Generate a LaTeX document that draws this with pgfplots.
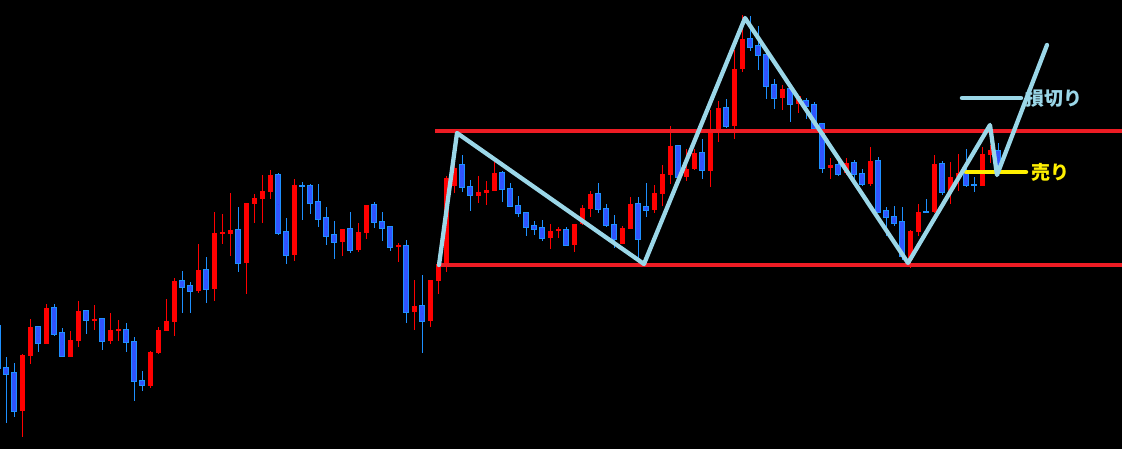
\documentclass[border=0pt]{standalone}
\usepackage{fontspec}
\usepackage{pgfplots}
\usepackage{pgfplotstable}
\pgfplotsset{compat=1.18}
\newfontfamily\cjk{Noto Sans CJK JP}
\definecolor{cred}{RGB}{255,0,0}
\definecolor{cblue}{RGB}{30,144,255}
\definecolor{cbluefill}{RGB}{48,84,255}
\definecolor{lred}{RGB}{237,28,36}
\definecolor{lblue}{RGB}{155,215,232}
\definecolor{lyel}{RGB}{255,240,0}
\pgfplotsset{candle/.style={only marks, mark=*, mark size=0pt,
  mark options={draw=none, fill=none}, forget plot}}

% candle tables in pixel coordinates (y measured from top)
\pgfplotstableread{
x top bot hi lo
22.3 355 411 354 437
30.3 327 356 319 364
46.3 308 344 304 344
70.3 340 357 331 357
78.3 311 341 301 347
94.3 320 320 305 330
110.3 330 341 313 344
118.3 330 330 320 341
150.3 352 386 351 388
158.3 330 353 327 354
166.3 321 331 299 331
174.3 281 322 278 336
198.3 270 291 244 293
214.3 233 289 212 301
222.3 233 233 214 244
230.3 230 234 193 256
246.3 203 263 203 294
254.3 198 204 194 223
262.3 191 199 175 223
270.3 175 192 170 199
294.3 185 255 179 261
342.3 229 242 229 256
358.3 232 250 223 252
366.3 205 233 205 239
398.3 246 246 243 262
414.3 306 312 280 330
430.3 280 321 280 327
438.3 264 281 264 294
446.3 178 264 176 272
454.3 168 186 158 193
478.3 192 196 176 203
486.3 190 193 181 205
494.3 173 191 162 191
550.3 231 238 224 249
558.3 229 231 227 238
574.3 224 245 224 252
582.3 208 224 205 225
590.3 194 209 191 217
622.3 228 244 226 244
630.3 204 229 197 229
654.3 193 210 185 213
662.3 174 194 165 206
670.3 146 175 126 184
686.3 169 177 149 181
694.3 153 169 149 170
710.3 133 171 110 187
718.3 108 133 101 142
734.3 69 126 50 139
742.3 39 69 15 72
782.3 89 98 85 110
798.3 96 104 96 113
830.3 165 168 158 179
846.3 163 173 158 175
870.3 161 184 147 186
910.3 231 260 230 268
918.3 212 232 204 236
934.3 164 212 155 213
950.3 177 192 162 204
958.3 173 177 154 191
982.3 154 186 147 186
990.3 150 155 145 163
}\redtab

\pgfplotstableread{
x top bot hi lo
-1.7 326 368 324 372
6.3 368 374 357 423
14.3 373 411 363 417
38.3 327 343 327 352
54.3 308 334 304 336
62.3 333 356 328 356
86.3 311 320 311 334
102.3 319 341 319 350
126.3 330 342 323 352
134.3 342 381 337 401
142.3 381 385 371 391
182.3 281 287 271 313
190.3 286 291 282 313
206.3 270 289 257 303
238.3 230 263 207 272
278.3 175 233 173 235
286.3 232 255 218 264
302.3 186 186 182 220
310.3 186 203 184 214
318.3 202 219 184 227
326.3 218 236 207 245
334.3 235 242 221 259
350.3 229 250 212 253
374.3 205 222 202 228
382.3 222 228 212 241
390.3 227 247 226 251
406.3 246 312 240 323
422.3 306 321 275 353
462.3 165 187 155 192
470.3 187 195 180 211
502.3 173 189 171 202
510.3 189 206 183 206
518.3 206 213 196 217
526.3 213 227 213 236
534.3 226 229 221 235
542.3 228 238 220 241
566.3 230 245 227 245
598.3 194 209 183 213
606.3 209 225 204 227
614.3 225 239 215 248
638.3 204 239 197 258
646.3 207 210 183 217
678.3 146 177 146 180
702.3 153 170 139 179
726.3 108 126 99 128
750.3 39 47 16 51
758.3 46 55 26 70
766.3 55 86 55 99
774.3 85 98 79 109
790.3 89 104 87 122
806.3 101 106 98 119
814.3 105 128 102 128
822.3 124 168 124 173
838.3 165 174 162 176
854.3 163 174 160 182
862.3 174 184 169 186
878.3 161 212 157 213
886.3 211 217 207 236
894.3 217 223 206 226
902.3 222 256 207 260
926.3 212 212 199 212
942.3 164 192 161 195
966.3 173 185 149 187
974.3 185 185 177 192
998.3 151 165 143 172
}\bluetab

\begin{document}
\begin{tikzpicture}
\fill[black] (0,0) rectangle (1122bp,449bp);
\begin{axis}[
  at={(0,0)}, anchor=south west,
  width=1122bp, height=449bp, scale only axis,
  xmin=0, xmax=1122, ymin=0, ymax=449, y dir=reverse,
  hide axis, clip=true,
]
% wicks
\addplot[candle,
  error bars/.cd, y dir=both, y explicit, error mark=none,
  error bar style={line width=1.4bp, draw=cred}]
  table[x=x, y expr={(\thisrow{hi}+\thisrow{lo})/2}, y error expr={(\thisrow{lo}-\thisrow{hi})/2}] {\redtab};
\addplot[candle,
  error bars/.cd, y dir=both, y explicit, error mark=none,
  error bar style={line width=1.4bp, draw=cblue}]
  table[x=x, y expr={(\thisrow{hi}+\thisrow{lo})/2}, y error expr={(\thisrow{lo}-\thisrow{hi})/2}] {\bluetab};
% bodies
\addplot[candle,
  error bars/.cd, y dir=both, y explicit, error mark=none,
  error bar style={line width=5.4bp, draw=cred}]
  table[x=x, y expr={(\thisrow{top}+\thisrow{bot})/2}, y error expr={max((\thisrow{bot}-\thisrow{top})/2,1)}] {\redtab};
\addplot[candle,
  error bars/.cd, y dir=both, y explicit, error mark=none,
  error bar style={line width=5.8bp, draw=cblue}]
  table[x=x, y expr={(\thisrow{top}+\thisrow{bot})/2}, y error expr={max((\thisrow{bot}-\thisrow{top})/2,0.2)+0.8}] {\bluetab};
\addplot[candle,
  error bars/.cd, y dir=both, y explicit, error mark=none,
  error bar style={line width=3.9bp, draw=cbluefill}]
  table[x=x, y expr={(\thisrow{top}+\thisrow{bot})/2}, y error expr={max((\thisrow{bot}-\thisrow{top})/2-0.3,0)}] {\bluetab};
% horizontal red lines
\addplot[lred, line width=4.5bp, forget plot] coordinates {(435,131) (1122,131)};
\addplot[lred, line width=4.5bp, forget plot] coordinates {(437,265) (1122,265)};
% yellow sell line
\addplot[lyel, line width=4.5bp, line cap=round, forget plot] coordinates {(966,172) (1026,172)};
% stop-loss legend line
\addplot[lblue, line width=4.5bp, line cap=round, forget plot] coordinates {(962,98) (1021,98)};
% zigzag
\addplot[lblue, line width=4.3bp, line join=round, line cap=round, forget plot] coordinates {
(439,265) (457,133) (644,264) (745,18) (908,263) (990,125) (997,175) (1047,45)};
\node[anchor=west, inner sep=0pt, text=lblue, font=\cjk\bfseries\fontsize{19}{19}\selectfont] at (axis cs:1025,98) {損切り};
\node[anchor=west, inner sep=0pt, text=lyel, font=\cjk\bfseries\fontsize{19}{19}\selectfont] at (axis cs:1031,172) {売り};
\end{axis}
\end{tikzpicture}
\end{document}
